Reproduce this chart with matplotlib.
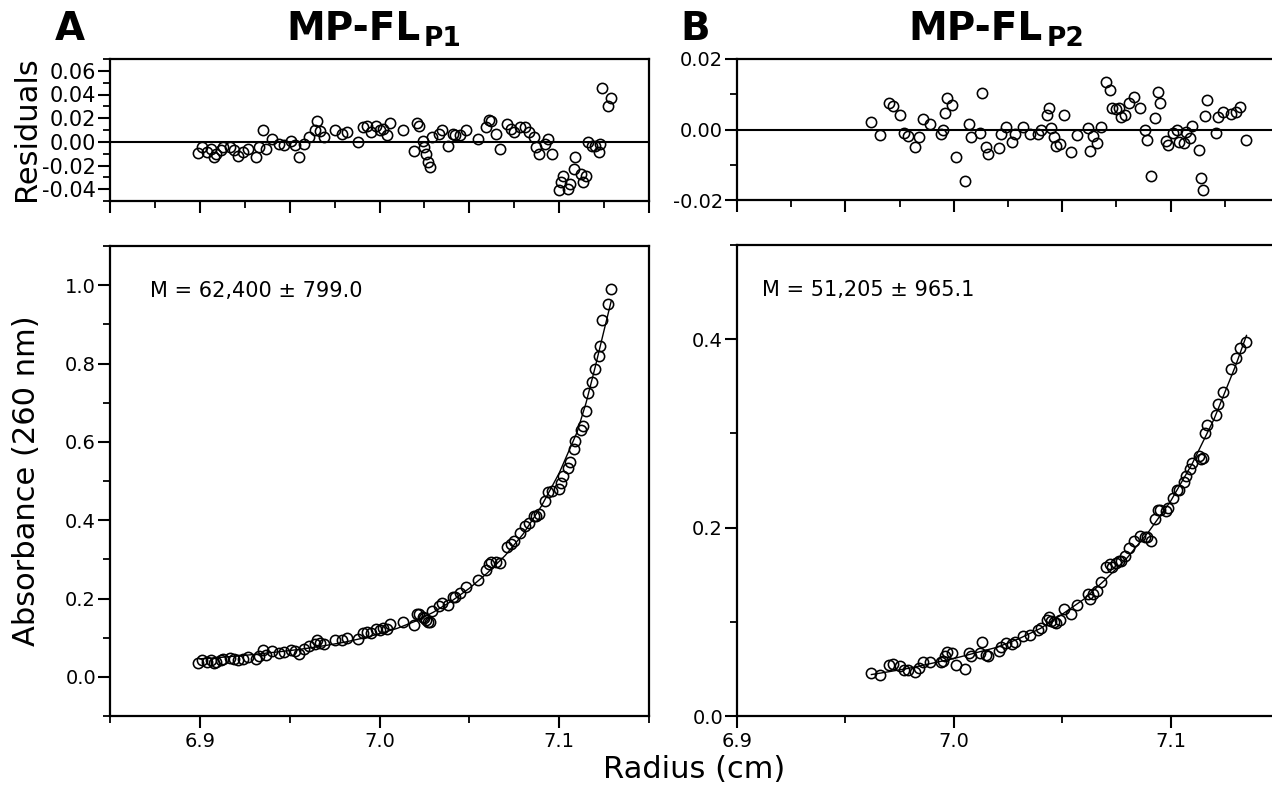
import matplotlib
matplotlib.use("Agg")
import matplotlib.pyplot as plt
from matplotlib.ticker import MultipleLocator, FuncFormatter

# -----------------------------
# Data
# -----------------------------
# Panel A: MP-FL P1
res_a_x = [6.899, 6.901, 6.904, 6.906, 6.908, 6.909, 6.912, 6.913, 6.917, 6.919,
           6.921, 6.924, 6.927, 6.931, 6.933, 6.935, 6.937, 6.940, 6.944, 6.947,
           6.951, 6.953, 6.955, 6.958, 6.961, 6.964, 6.965, 6.967, 6.969, 6.975,
           6.979, 6.982, 6.988, 6.991, 6.993, 6.995, 6.998, 7.000, 7.002, 7.004,
           7.006, 7.013, 7.019, 7.021, 7.022, 7.024, 7.025, 7.026, 7.027, 7.028,
           7.029, 7.033, 7.035, 7.038, 7.041, 7.042, 7.045, 7.048, 7.055, 7.059,
           7.061, 7.062, 7.065, 7.067, 7.071, 7.073, 7.075, 7.078, 7.081, 7.083,
           7.086, 7.087, 7.089, 7.092, 7.094, 7.096, 7.100, 7.101, 7.102, 7.105,
           7.106, 7.108, 7.109, 7.112, 7.113, 7.115, 7.116, 7.118, 7.120, 7.122,
           7.123, 7.124, 7.127, 7.129]
res_a_y = [-0.0096, -0.0045, -0.0087, -0.0059, -0.0130, -0.0101, -0.0073, -0.0045, -0.0045, -0.0073,
           -0.0116, -0.0087, -0.0059, -0.0130, -0.0045, 0.0096, -0.0059, 0.0025, -0.0017, -0.0023,
           0.0011, -0.0023, -0.0124, -0.0017, 0.0039, 0.0096, 0.0175, 0.0090, 0.0045, 0.0101,
           0.0068, 0.0082, -0.0003, 0.0124, 0.0138, 0.0082, 0.0138, 0.0096, 0.0110, 0.0054,
           0.0158, 0.0096, -0.0079, 0.0158, 0.0138, 0.0011, -0.0045, -0.0101, -0.0172, -0.0214,
           0.0039, 0.0068, 0.0096, -0.0039, 0.0068, 0.0054, 0.0054, 0.0096, 0.0025, 0.0124,
           0.0186, 0.0180, 0.0068, -0.0059, 0.0152, 0.0110, 0.0082, 0.0124, 0.0124, 0.0082,
           0.0039, -0.0045, -0.0107, -0.0017, 0.0025, -0.0107, -0.0411, -0.0341, -0.0285, -0.0397,
           -0.0355, -0.0228, -0.0130, -0.0270, -0.0341, -0.0285, -0.0003, -0.0039, -0.0031, -0.0087,
           -0.0017, 0.0456, 0.0299, 0.0372]
abs_a = [0.036, 0.042, 0.038, 0.042, 0.035, 0.039, 0.043, 0.046, 0.047, 0.045,
         0.042, 0.046, 0.050, 0.045, 0.054, 0.069, 0.055, 0.065, 0.062, 0.063,
         0.069, 0.067, 0.058, 0.070, 0.078, 0.085, 0.094, 0.087, 0.084, 0.094,
         0.094, 0.098, 0.096, 0.112, 0.115, 0.112, 0.121, 0.120, 0.124, 0.121,
         0.134, 0.139, 0.132, 0.160, 0.160, 0.152, 0.149, 0.146, 0.141, 0.139,
         0.167, 0.180, 0.189, 0.184, 0.203, 0.205, 0.215, 0.229, 0.248, 0.274,
         0.288, 0.292, 0.294, 0.291, 0.331, 0.338, 0.346, 0.366, 0.384, 0.394,
         0.411, 0.410, 0.417, 0.450, 0.472, 0.475, 0.479, 0.496, 0.513, 0.533,
         0.548, 0.581, 0.602, 0.631, 0.640, 0.679, 0.724, 0.753, 0.787, 0.819,
         0.845, 0.912, 0.952, 0.989]
fit_a_x = [6.900, 6.910, 6.920, 6.930, 6.940, 6.950, 6.960, 6.970, 6.980, 6.990,
           7.000, 7.010, 7.020, 7.030, 7.040, 7.050, 7.060, 7.070, 7.080, 7.090,
           7.100, 7.110, 7.115, 7.120, 7.125, 7.129]
fit_a_y = [0.046, 0.049, 0.053, 0.057, 0.062, 0.067, 0.073, 0.080, 0.088, 0.098,
           0.110, 0.124, 0.142, 0.165, 0.193, 0.226, 0.265, 0.310, 0.365, 0.435,
           0.520, 0.625, 0.700, 0.790, 0.885, 0.960]

# Panel B: MP-FL P2
res_b_x = [6.962, 6.966, 6.970, 6.972, 6.975, 6.977, 6.979, 6.982, 6.984, 6.986,
           6.989, 6.994, 6.995, 6.996, 6.997, 6.999, 7.001, 7.005, 7.007, 7.008,
           7.012, 7.013, 7.015, 7.016, 7.021, 7.022, 7.024, 7.027, 7.028, 7.032,
           7.035, 7.039, 7.040, 7.043, 7.044, 7.045, 7.046, 7.047, 7.049, 7.051,
           7.054, 7.057, 7.062, 7.063, 7.064, 7.066, 7.068, 7.070, 7.072, 7.073,
           7.075, 7.076, 7.077, 7.079, 7.081, 7.083, 7.086, 7.088, 7.089, 7.091,
           7.093, 7.094, 7.095, 7.098, 7.099, 7.101, 7.103, 7.104, 7.106, 7.107,
           7.109, 7.110, 7.113, 7.114, 7.115, 7.116, 7.117, 7.121, 7.122, 7.124,
           7.128, 7.130, 7.132, 7.135]
res_b_y = [0.0022, -0.0016, 0.0074, 0.0068, 0.0042, -0.0010, -0.0019, -0.0050, -0.0021, 0.0029,
           0.0017, -0.0012, -0.0002, 0.0048, 0.0089, 0.0069, -0.0079, -0.0145, 0.0017, -0.0021,
           -0.0009, 0.0103, -0.0050, -0.0070, -0.0052, -0.0014, 0.0006, -0.0036, -0.0014, 0.0006,
           -0.0014, -0.0012, 0.0000, 0.0042, 0.0061, 0.0003, -0.0021, -0.0048, -0.0041, 0.0042,
           -0.0065, -0.0016, 0.0003, -0.0060, -0.0019, -0.0039, 0.0008, 0.0134, 0.0112, 0.0061,
           0.0058, 0.0061, 0.0035, 0.0042, 0.0076, 0.0093, 0.0061, 0.0000, -0.0031, -0.0133,
           0.0032, 0.0105, 0.0074, -0.0033, -0.0043, -0.0010, -0.0002, -0.0036, -0.0039, -0.0007,
           -0.0023, 0.0010, -0.0058, -0.0138, -0.0171, 0.0039, 0.0083, -0.0010, 0.0035, 0.0051,
           0.0045, 0.0051, 0.0064, -0.0031]
abs_b = [0.046, 0.044, 0.054, 0.055, 0.053, 0.049, 0.049, 0.047, 0.051, 0.057,
         0.057, 0.057, 0.058, 0.064, 0.068, 0.067, 0.054, 0.050, 0.067, 0.064,
         0.067, 0.079, 0.065, 0.064, 0.069, 0.073, 0.077, 0.076, 0.079, 0.085,
         0.086, 0.091, 0.093, 0.102, 0.105, 0.101, 0.100, 0.099, 0.102, 0.114,
         0.108, 0.118, 0.129, 0.124, 0.130, 0.133, 0.142, 0.158, 0.161, 0.158,
         0.162, 0.165, 0.165, 0.170, 0.178, 0.186, 0.191, 0.190, 0.190, 0.186,
         0.209, 0.219, 0.219, 0.218, 0.221, 0.231, 0.240, 0.240, 0.248, 0.255,
         0.262, 0.269, 0.276, 0.273, 0.274, 0.300, 0.309, 0.320, 0.331, 0.344,
         0.368, 0.380, 0.391, 0.397]
fit_b_x = [6.962, 6.970, 6.980, 6.990, 7.000, 7.010, 7.020, 7.030, 7.040, 7.050,
           7.060, 7.070, 7.080, 7.090, 7.100, 7.110, 7.120, 7.130, 7.135]
fit_b_y = [0.044, 0.047, 0.051, 0.056, 0.061, 0.067, 0.073, 0.082, 0.093, 0.108,
           0.124, 0.145, 0.168, 0.196, 0.228, 0.268, 0.315, 0.372, 0.404]

mw_a = "M = 62,400 \u00b1 799.0"
mw_b = "M = 51,205 \u00b1 965.1"

# -----------------------------
# Layout helpers (figure pixels)
# -----------------------------
W, H = 1272, 789

plt.rcParams["font.family"] = ["DejaVu Sans"]
plt.rcParams["axes.unicode_minus"] = False


def box(left, top, right, bottom):
    return [left / W, 1 - bottom / H, (right - left) / W, (bottom - top) / H]


def put(fig, px, py, s, **kw):
    return fig.text(px / W, 1 - py / H, s, **kw)


def fmt(decimals):
    return FuncFormatter(lambda v, _: f"{round(v, 5) + 0.0:.{decimals}f}")


def style(ax, xlim, ylim, xmaj, xmin, ymaj, ymin, ydec, xlabels, ylabsize=14):
    ax.set_xlim(*xlim)
    ax.set_ylim(*ylim)
    for s in ax.spines.values():
        s.set_linewidth(1.6)
    ax.xaxis.set_major_locator(MultipleLocator(xmaj))
    ax.xaxis.set_minor_locator(MultipleLocator(xmin))
    ax.yaxis.set_major_locator(MultipleLocator(ymaj))
    ax.yaxis.set_minor_locator(MultipleLocator(ymin))
    ax.yaxis.set_major_formatter(fmt(ydec))
    ax.xaxis.set_major_formatter(fmt(1))
    ax.tick_params(which="major", direction="out", length=8.5, width=1.5)
    ax.tick_params(which="minor", direction="out", length=5, width=1.3)
    ax.tick_params(axis="y", which="major", labelsize=ylabsize, pad=1.5)
    ax.tick_params(axis="x", which="major", labelsize=14, pad=3)
    ax.tick_params(axis="x", labelbottom=xlabels)


def scatter(ax, x, y):
    ax.plot(x, y, linestyle="none", marker="o", ms=7.4, mfc="none",
            mec="black", mew=1.15, zorder=3)


fig = plt.figure(figsize=(W / 100, H / 100), dpi=100)

# Panel A
ax_ra = fig.add_axes(box(110, 59, 649, 201))
ax_ra.axhline(0.0, color="black", lw=1.5, zorder=2)
scatter(ax_ra, res_a_x, res_a_y)
style(ax_ra, (6.85, 7.15), (-0.05, 0.07), 0.05, 0.025, 0.02, 0.01, 2, False, ylabsize=15)

ax_ma = fig.add_axes(box(110, 246, 649, 716))
ax_ma.plot(fit_a_x, fit_a_y, color="black", lw=1.0, zorder=2)
scatter(ax_ma, res_a_x, abs_a)
style(ax_ma, (6.85, 7.15), (-0.1, 1.1), 0.1, 0.05, 0.2, 0.1, 1, True)
ax_ma.text(6.872, 0.985, mw_a, fontsize=15, ha="left", va="center")

# Panel B (right edge runs past the figure border, as in the scan)
ax_rb = fig.add_axes(box(737, 59, 1279, 200))
ax_rb.axhline(0.0, color="black", lw=1.5, zorder=2)
scatter(ax_rb, res_b_x, res_b_y)
style(ax_rb, (6.9, 7.15), (-0.02, 0.02), 0.05, 0.025, 0.02, 0.01, 2, False)

ax_mb = fig.add_axes(box(737, 245, 1279, 716))
ax_mb.plot(fit_b_x, fit_b_y, color="black", lw=1.0, zorder=2)
scatter(ax_mb, res_b_x, abs_b)
style(ax_mb, (6.9, 7.15), (0.0, 0.5), 0.1, 0.05, 0.2, 0.1, 1, True)
ax_mb.text(6.9115, 0.452, mw_b, fontsize=15, ha="left", va="center")

# Titles, panel letters and axis labels
put(fig, 55, 40, "A", fontsize=28, fontweight="bold", va="baseline", ha="left")
put(fig, 680, 40, "B", fontsize=28, fontweight="bold", va="baseline", ha="left")
put(fig, 421, 40, "MP-FL", fontsize=28, fontweight="bold", va="baseline", ha="right")
put(fig, 424, 46, "P1", fontsize=19, fontweight="bold", va="baseline", ha="left")
put(fig, 1043, 40, "MP-FL", fontsize=28, fontweight="bold", va="baseline", ha="right")
put(fig, 1047, 46, "P2", fontsize=19, fontweight="bold", va="baseline", ha="left")

put(fig, 27, 129, "Residuals", fontsize=22, rotation=90, ha="center", va="center")
put(fig, 27, 481, "Absorbance (260 nm)", fontsize=22, rotation=90, ha="center", va="center")
put(fig, 694, 769, "Radius (cm)", fontsize=22, ha="center", va="center")

fig.savefig("out.png", dpi=100)
